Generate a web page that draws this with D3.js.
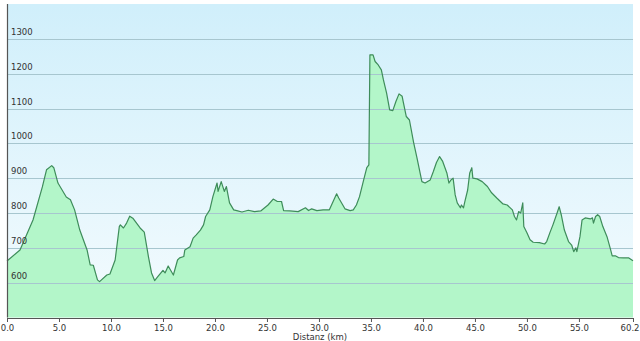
<!DOCTYPE html>
<html>
<head>
<meta charset="utf-8">
<script src="https://cdn.jsdelivr.net/npm/d3@7"></script>
<style>
  body { margin: 0; background: #fff; }
  text { font-family: "DejaVu Sans", Verdana, sans-serif; }
</style>
</head>
<body>
<div id="chart"></div>
<script>
// elevation profile: distance (km) and height (m)
const distKm = [0, 1.25, 2.5, 3.4, 3.8, 4.3, 4.5, 4.9, 5.7, 6.1, 6.5, 7.0, 7.7, 8.0, 8.3, 8.7, 8.9,
  9.6, 9.9, 10.4, 10.8, 10.9, 11.2, 11.5, 11.8, 12.1, 12.8, 13.2, 13.6, 13.9, 14.2, 14.5, 15.0,
  15.2, 15.5, 16.0, 16.4, 16.6, 17.0, 17.1, 17.6, 17.9, 18.2, 18.6, 18.9, 19.1, 19.5, 19.8, 20.2,
  20.3, 20.6, 20.9, 21.1, 21.4, 21.8, 22.1, 22.6, 23.2, 23.8, 24.4, 25.1, 25.6, 26.0, 26.4, 26.6,
  27.2, 28.0, 28.7, 29.0, 29.3, 29.8, 30.4, 31.0, 31.7, 31.9, 32.5, 33.0, 33.3, 33.6, 33.9, 34.3,
  34.6, 34.8, 34.9, 35.2, 35.4, 35.7, 36.0, 36.2, 36.5, 36.8, 37.1, 37.4, 37.7, 38.0, 38.1, 38.4,
  38.7, 39.1, 39.4, 39.9, 40.2, 40.7, 41.0, 41.3, 41.6, 41.9, 42.3, 42.5, 42.7, 42.9, 43.1, 43.3,
  43.6, 43.7, 43.9, 44.0, 44.3, 44.5, 44.7, 44.8, 45.2, 45.7, 46.2, 46.6, 47.1, 47.7, 48.1, 48.6,
  48.8, 49.0, 49.2, 49.4, 49.6, 49.7, 50.0, 50.3, 50.6, 51.2, 51.7, 51.9, 52.2, 52.5, 52.9, 53.1,
  53.3, 53.6, 54.0, 54.3, 54.5, 54.7, 54.8, 55.1, 55.3, 55.6, 56.1, 56.3, 56.4, 56.6, 56.8, 57.0,
  57.3, 57.7, 58.0, 58.2, 58.5, 58.8, 59.3, 59.8, 60.2];
const heightM = [662, 694, 780, 875, 924, 936, 930, 886, 846, 838, 809, 751, 694, 651, 650, 608, 603,
  622, 625, 665, 761, 766, 757, 771, 791, 785, 757, 745, 675, 628, 606, 617, 635,
  628, 648, 622, 665, 671, 675, 694, 703, 728, 737, 751, 766, 790, 809, 847, 886,
  862, 890, 862, 876, 829, 809, 807, 803, 808, 804, 806, 823, 840, 833, 833, 807,
  806, 804, 815, 807, 812, 807, 809, 809, 855, 843, 812, 807, 809, 823, 847, 895,
  930, 938, 1254, 1254, 1235, 1225, 1211, 1182, 1145, 1096, 1094, 1120, 1142, 1135, 1120, 1077,
  1067, 1003, 962, 890, 886, 895, 919, 945, 962, 948, 915, 886, 895, 900, 852, 829,
  815, 823, 815, 829, 866, 915, 930, 900, 898, 890, 876, 858, 843, 826, 823, 809,
  790, 780, 804, 800, 829, 761, 743, 723, 716, 715, 711, 718, 743, 766, 800, 818,
  795, 751, 718, 708, 689, 700, 689, 732, 780, 786, 783, 786, 771, 790, 795, 790,
  761, 732, 700, 677, 677, 672, 671, 671, 663];
const yTicks = [600, 700, 800, 900, 1000, 1100, 1200, 1300];
const xTicks = [0, 5, 10, 15, 20, 25, 30, 35, 40, 45, 50, 55, 60.2];
const xTitle = "Distanz  (km)";

const W = 640, H = 341;
const plotLeft = 7, plotRight = 633, plotTop = 4, plotBottom = 317.5;

const svg = d3.select("#chart").append("svg")
  .attr("width", W).attr("height", H);

const defs = svg.append("defs");
const grad = defs.append("linearGradient")
  .attr("id", "bg").attr("x1", 0).attr("y1", 0).attr("x2", 0).attr("y2", 1);
grad.append("stop").attr("offset", "0%").attr("stop-color", "#d0effb");
grad.append("stop").attr("offset", "100%").attr("stop-color", "#f4fbfe");

const x = d3.scaleLinear().domain([0, 60.2]).range([plotLeft, plotRight]);
const y = d3.scaleLinear().domain([500, 1400]).range([plotBottom, plotTop]);

// plot background
svg.append("rect")
  .attr("x", plotLeft).attr("y", plotTop)
  .attr("width", plotRight - plotLeft).attr("height", plotBottom - plotTop)
  .attr("fill", "url(#bg)");

const data = distKm.map((d, i) => ({ x: d, y: heightM[i] }));

// filled profile
svg.append("path")
  .datum(data)
  .attr("fill", "#b3f6c9")
  .attr("d", d3.area().x(d => x(d.x)).y0(plotBottom).y1(d => y(d.y)));

// gridlines on top of the fill
svg.append("g")
  .selectAll("line")
  .data(yTicks)
  .join("line")
  .attr("x1", plotLeft).attr("x2", plotRight)
  .attr("y1", d => Math.round(y(d)) + 0.5).attr("y2", d => Math.round(y(d)) + 0.5)
  .attr("stroke", "#a7c6cf")
  .attr("stroke-width", 1);

// profile line
svg.append("path")
  .datum(data)
  .attr("fill", "none")
  .attr("stroke", "#3e8c5a")
  .attr("stroke-width", 1.2)
  .attr("stroke-linejoin", "round")
  .attr("d", d3.line().x(d => x(d.x)).y(d => y(d.y)));

// y labels sit inside the plot, just above each gridline
svg.append("g")
  .selectAll("text")
  .data(yTicks)
  .join("text")
  .attr("x", 11)
  .attr("y", d => y(d) - 4)
  .attr("font-size", 8.5)
  .attr("fill", "#333")
  .text(d => d);

// left axis line
svg.append("line")
  .attr("x1", plotLeft + 0.5).attr("x2", plotLeft + 0.5)
  .attr("y1", plotTop).attr("y2", plotBottom)
  .attr("stroke", "#555").attr("stroke-width", 1.2);

// bottom axis
const xAxis = d3.axisBottom(x)
  .tickValues(xTicks)
  .tickFormat(d3.format(".1f"))
  .tickSize(4)
  .tickSizeOuter(0);
const gx = svg.append("g")
  .attr("transform", `translate(0,${Math.round(plotBottom)})`)
  .call(xAxis);
gx.select(".domain").attr("stroke", "#555");
gx.selectAll(".tick line").attr("stroke", "#555");
gx.selectAll("text")
  .attr("font-size", 8.5)
  .attr("fill", "#333")
  .attr("font-family", "DejaVu Sans, Verdana, sans-serif");
// keep the last label inside the window
gx.selectAll(".tick text")
  .filter(d => d === 60.2)
  .attr("text-anchor", "end")
  .attr("dx", 6);

svg.append("text")
  .attr("x", 320).attr("y", 340)
  .attr("text-anchor", "middle")
  .attr("font-size", 8.5)
  .attr("fill", "#333")
  .text(xTitle);
</script>
</body>
</html>
